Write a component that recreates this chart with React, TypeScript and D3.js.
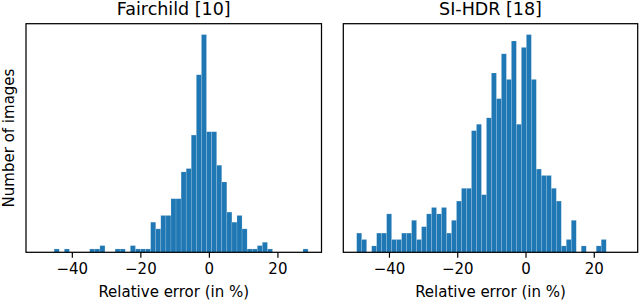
import React from "react";
import * as d3 from "d3";

// ---- data ----
const titles = ["Fairchild [10]", "SI-HDR [18]"];
const xTicks = [-40, -20, 0, 20];
const xLabel = "Relative error (in %)";
const yLabel = "Number of images";

// value range covered by the 50 histogram bins of each panel
const fairchildRange = [-45.3, 28.8];
const sihdrRange = [-49.6, 23.5];

const fairchildCounts = [
  1, 0, 1, 0, 0, 0, 0, 1, 1, 2,
  0, 0, 1, 1, 0, 2, 1, 1, 1, 9,
  7, 11, 11, 16, 16, 24, 25, 35, 53, 65,
  36, 36, 26, 21, 12, 9, 11, 7, 1, 1,
  2, 3, 1, 0, 0, 0, 0, 0, 0, 1,
];

const sihdrCounts = [
  3, 2, 0, 1, 3, 3, 6, 2, 2, 3,
  3, 5, 2, 4, 6, 7, 6, 7, 3, 5,
  8, 10, 10, 19, 20, 9, 21, 28, 24, 31,
  27, 33, 20, 32, 34, 27, 13, 12, 12, 10,
  8, 1, 2, 5, 0, 1, 0, 0, 1, 2,
];

const FONT = "DejaVu Sans, sans-serif";
const BLUE = "#1f77b4";

type PanelProps = {
  left: number;
  right: number;
  top: number;
  bottom: number;
  title: string;
  range: number[];
  counts: number[];
  xDomain: [number, number];
};

function Panel({ left, right, top, bottom, title, range, counts, xDomain }: PanelProps) {
  const x = d3.scaleLinear().domain(xDomain).range([left, right]);
  const maxC = d3.max(counts) as number;
  const y = d3.scaleLinear().domain([0, maxC * 1.05]).range([bottom, top]);
  const n = counts.length;
  const w = (range[1] - range[0]) / n;
  const bins = counts.map((c, i) => ({
    x0: range[0] + i * w,
    x1: range[0] + (i + 1) * w,
    c,
  }));
  const cx = (left + right) / 2;
  return (
    <g>
      {bins
        .filter((b) => b.c > 0)
        .map((b, i) => (
          <rect
            key={i}
            x={x(b.x0)}
            width={x(b.x1) - x(b.x0)}
            y={y(b.c)}
            height={y(0) - y(b.c)}
            fill={BLUE}
            stroke="#ffffff"
            strokeOpacity={0.25}
            strokeWidth={0.6}
          />
        ))}
      <rect
        x={left}
        y={top}
        width={right - left}
        height={bottom - top}
        fill="none"
        stroke="#000"
        strokeWidth={1.25}
      />
      {xTicks.map((t) => (
        <g key={t}>
          <line x1={x(t)} x2={x(t)} y1={bottom} y2={bottom + 5.4} stroke="#000" strokeWidth={1.2} />
          <text
            x={x(t)}
            y={bottom + 22}
            textAnchor="middle"
            fontFamily={FONT}
            fontSize={15}
            fill="#000"
          >
            {t < 0 ? "\u2212" + Math.abs(t) : String(t)}
          </text>
        </g>
      ))}
      <text x={cx} y={bottom + 44.5} textAnchor="middle" fontFamily={FONT} fontSize={15} fill="#000">
        {xLabel}
      </text>
      <text x={cx} y={top - 9} textAnchor="middle" fontFamily={FONT} fontSize={17.5} fill="#000">
        {title}
      </text>
    </g>
  );
}

export default function App() {
  const allMin = Math.min(fairchildRange[0], sihdrRange[0]);
  const allMax = Math.max(fairchildRange[1], sihdrRange[1]);
  const pad = (allMax - allMin) * 0.05;
  const xDomain: [number, number] = [allMin - pad, allMax + pad];
  const top = 23.7;
  const bottom = 252.3;
  return (
    <svg
      width={640}
      height={301}
      style={{ position: "absolute", left: 0, top: 0, background: "#fff" }}
    >
      <rect x={0} y={0} width={640} height={301} fill="#fff" />
      <Panel
        left={26}
        right={321.5}
        top={top}
        bottom={bottom}
        title={titles[0]}
        range={fairchildRange}
        counts={fairchildCounts}
        xDomain={xDomain}
      />
      <Panel
        left={343.3}
        right={637.7}
        top={top}
        bottom={bottom}
        title={titles[1]}
        range={sihdrRange}
        counts={sihdrCounts}
        xDomain={xDomain}
      />
      <text
        transform={`translate(13.5,${(top + bottom) / 2}) rotate(-90)`}
        textAnchor="middle"
        fontFamily={FONT}
        fontSize={15}
        fill="#000"
      >
        {yLabel}
      </text>
    </svg>
  );
}
